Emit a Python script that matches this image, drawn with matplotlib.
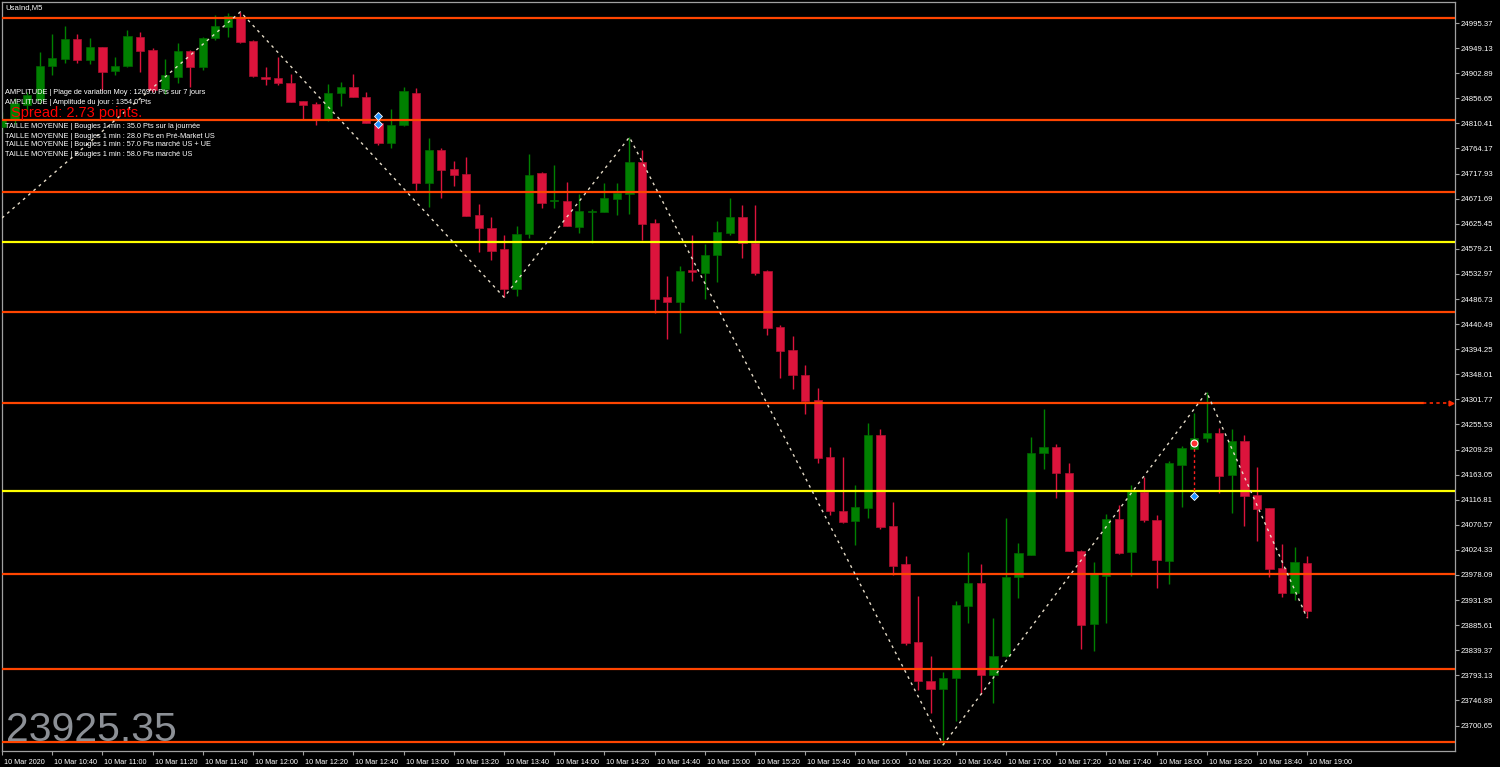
import matplotlib
matplotlib.use("Agg")
import matplotlib.pyplot as plt
from matplotlib.transforms import ScaledTranslation
import numpy as np

# UsaInd M5 candles, 10 Mar 2020 10:20 -> 19:00 (one per 5 minutes)
opens = [
    24804, 24817, 24844, 24853, 24916, 24929, 24966, 24927, 24951, 24907,
    24916, 24970, 24946, 24874, 24896, 24944, 24914, 24968, 24988, 25007,
    24962, 24896, 24894, 24885, 24852, 24846, 24817, 24866, 24878, 24859,
    24811, 24774, 24807, 24866, 24701, 24761, 24726, 24717, 24642, 24618,
    24579, 24505, 24607, 24719, 24667, 24667, 24620, 24647, 24647, 24671,
    24680, 24739, 24627, 24490, 24481, 24540, 24535, 24568, 24608, 24638,
    24590, 24538, 24435, 24393, 24347, 24301, 24196, 24096, 24078, 24102,
    24236, 24068, 23998, 23855, 23783, 23768, 23788, 23921, 23963, 23794,
    23829, 23974, 24015, 24203, 24214, 24166, 24022, 23888, 23976, 24081,
    24021, 24131, 24079, 24004, 24181, 24210, 24231, 24240, 24162, 24225,
    24126, 24102, 23991, 23945, 24000,
]
highs = [
    24831, 24857, 24868, 24942, 24975, 24990, 24975, 24968, 24951, 24933,
    24983, 24979, 24949, 24929, 24959, 24946, 24970, 25010, 25014, 25016,
    24964, 24914, 24933, 24901, 24852, 24850, 24883, 24887, 24901, 24868,
    24813, 24837, 24878, 24876, 24784, 24765, 24741, 24748, 24662, 24638,
    24605, 24621, 24754, 24721, 24734, 24702, 24680, 24653, 24701, 24701,
    24785, 24761, 24634, 24529, 24548, 24605, 24588, 24631, 24673, 24660,
    24660, 24540, 24439, 24419, 24365, 24323, 24214, 24196, 24144, 24258,
    24247, 24113, 24013, 23939, 23829, 23799, 23930, 24021, 23998, 23899,
    24083, 24037, 24232, 24284, 24220, 24185, 24024, 24002, 24091, 24107,
    24144, 24159, 24089, 24188, 24216, 24277, 24315, 24249, 24247, 24236,
    24177, 24102, 24035, 24030, 24013,
]
lows = [
    24794, 24809, 24835, 24846, 24900, 24922, 24922, 24920, 24872, 24900,
    24914, 24905, 24868, 24865, 24885, 24878, 24909, 24964, 24970, 24959,
    24896, 24881, 24881, 24850, 24819, 24807, 24815, 24843, 24859, 24811,
    24771, 24765, 24806, 24688, 24656, 24673, 24695, 24640, 24573, 24559,
    24490, 24492, 24599, 24655, 24655, 24621, 24608, 24590, 24647, 24642,
    24643, 24596, 24461, 24413, 24424, 24520, 24487, 24518, 24605, 24562,
    24531, 24420, 24341, 24321, 24275, 24185, 24089, 24074, 24033, 24083,
    24063, 23978, 23849, 23766, 23724, 23665, 23709, 23890, 23759, 23742,
    23827, 23936, 24015, 24173, 24120, 24022, 23842, 23838, 23890, 24017,
    23976, 24076, 23954, 23962, 24103, 24210, 24223, 24129, 24092, 24068,
    24041, 23974, 23938, 23932, 23899,
]
closes = [
    24817, 24848, 24863, 24916, 24931, 24966, 24927, 24951, 24905, 24916,
    24972, 24944, 24872, 24900, 24944, 24914, 24968, 24990, 25008, 24960,
    24898, 24892, 24885, 24850, 24844, 24817, 24866, 24878, 24859, 24811,
    24774, 24807, 24870, 24701, 24761, 24725, 24715, 24640, 24618, 24575,
    24505, 24607, 24715, 24664, 24669, 24621, 24649, 24649, 24673, 24682,
    24739, 24625, 24487, 24481, 24538, 24537, 24568, 24610, 24638, 24590,
    24535, 24433, 24391, 24347, 24299, 24194, 24096, 24076, 24103, 24236,
    24067, 23995, 23853, 23783, 23768, 23788, 23923, 23963, 23794, 23829,
    23974, 24019, 24203, 24214, 24166, 24022, 23886, 23982, 24081, 24019,
    24135, 24079, 24006, 24185, 24212, 24231, 24240, 24161, 24225, 24124,
    24100, 23989, 23945, 24002, 23912,
]

# zigzag pivots (candle index, price)
zz_idx = [0, 19, 40, 50, 75, 96, 104]
zz_price = [24636, 25016, 24490, 24785, 23665, 24315, 23899]

# horizontal levels
orange_levels = [25004.6, 24816.6, 24683.9, 24462.8, 24295.1, 23979.9, 23804.8, 23670.3]
yellow_levels = [24591.8, 24132.9]

# trade markers
trade_idx = [30, 30]
trade_price = [24824, 24809]
order_idx = 95
order_open = 24221
order_stop = 24124

price_ticks_top = 24995.37
price_tick_step = 46.24
n_price_ticks = 29

xtick_pos = list(range(0, 105, 4))
xtick_labels = ["10 Mar 2020", "10 Mar 10:40", "10 Mar 11:00", "10 Mar 11:20", "10 Mar 11:40",
                "10 Mar 12:00", "10 Mar 12:20", "10 Mar 12:40", "10 Mar 13:00", "10 Mar 13:20",
                "10 Mar 13:40", "10 Mar 14:00", "10 Mar 14:20", "10 Mar 14:40", "10 Mar 15:00",
                "10 Mar 15:20", "10 Mar 15:40", "10 Mar 16:00", "10 Mar 16:20", "10 Mar 16:40",
                "10 Mar 17:00", "10 Mar 17:20", "10 Mar 17:40", "10 Mar 18:00", "10 Mar 18:20",
                "10 Mar 18:40", "10 Mar 19:00"]

info_lines = [
    "AMPLITUDE | Plage de variation Moy : 1269.0 Pts sur 7 jours",
    "AMPLITUDE | Amplitude du jour : 1354.0 Pts",
    "TAILLE MOYENNE | Bougies 1 min : 35.0 Pts sur la journée",
    "TAILLE MOYENNE | Bougies 1 min : 28.0 Pts en Pré-Market US",
    "TAILLE MOYENNE | Bougies 1 min : 57.0 Pts marché US + UE",
    "TAILLE MOYENNE | Bougies 1 min : 58.0 Pts marché US",
]
spread_text = "Spread: 2.73 points."
bid_text = "23925.35"
symbol_text = "UsaInd,M5"

W, H = 1500, 767
plt.rcParams["font.family"] = ["Liberation Sans", "DejaVu Sans"]

fig = plt.figure(figsize=(W / 100, H / 100), dpi=100, facecolor="black")
ax = fig.add_axes([2 / W, 1 - 751 / H, (1455 - 2) / W, (751 - 2) / H])
ax.set_facecolor("black")

GREEN = "#008000"
RED = "#DC143C"

o = np.array(opens, float)
h = np.array(highs, float)
l = np.array(lows, float)
c = np.array(closes, float)
idx = np.arange(len(o))
up = c >= o
cols = np.where(up, GREEN, RED)
edge = np.where(up, "#006400", "#B01030")

ax.vlines(idx, l, h, colors=cols, linewidth=1.0, zorder=2)
body_low = np.minimum(o, c)
body_h = np.maximum(np.abs(c - o), 1.6)
ax.bar(idx, body_h, bottom=body_low, width=0.66, color=cols, edgecolor=edge,
       linewidth=0.5, zorder=3)

# horizontal levels
for lv in orange_levels:
    xmax = 1.0 if lv != 24295.1 else 0.978
    ax.axhline(lv, xmin=0, xmax=xmax, color="#FF4500", linewidth=1.6, zorder=4)
for lv in yellow_levels:
    ax.axhline(lv, color="#FFFF00", linewidth=1.6, zorder=4)
ax.plot([113.2, 115.5], [24295.1, 24295.1], color="#FF2A00", linewidth=1.2,
        linestyle=(0, (2, 2)), zorder=4)
ax.plot([115.45], [24295.1], marker=">", color="#FF2A00", markersize=3.5, zorder=5)

# zigzag
ax.plot(zz_idx, zz_price, color="#E6DCC8", linewidth=1.0, linestyle=(0, (2, 3)), zorder=5)

# trade markers
ax.plot(trade_idx, trade_price, linestyle="none", marker="D", markersize=4,
        markerfacecolor="#1E90FF", markeredgecolor="white", markeredgewidth=0.6, zorder=6)
ax.plot([order_idx, order_idx], [order_open, order_stop], color="#FF2020",
        linewidth=1.0, linestyle=(0, (2, 2)), zorder=6)
ax.plot([order_idx], [order_open], marker="o", markersize=5, markerfacecolor="#FF3030",
        markeredgecolor="white", markeredgewidth=0.8, zorder=7)
ax.plot([order_idx], [order_stop], marker="D", markersize=4, markerfacecolor="#1E90FF",
        markeredgecolor="white", markeredgewidth=0.6, zorder=7)

ax.set_xlim((2 - 1.9) / 12.55, (1455 - 1.9) / 12.55)
ax.set_ylim(23653.7, 25034.1)

yt = price_ticks_top - price_tick_step * np.arange(n_price_ticks)
ax.yaxis.tick_right()
ax.set_yticks(yt)
ax.set_yticklabels([f"{v:.2f}" for v in yt])
ax.set_xticks(xtick_pos)
ax.set_xticklabels(xtick_labels)

ax.tick_params(axis="both", colors="#A0A0A0", labelcolor="white", length=3,
               width=0.8, direction="out", labelsize=5.6, pad=1.2)
ax.tick_params(axis="x", labelsize=5.2, pad=2.5)
off = ScaledTranslation(2 / 100, 0, fig.dpi_scale_trans)
for lbl in ax.get_xticklabels():
    lbl.set_horizontalalignment("left")
    lbl.set_transform(lbl.get_transform() + off)

for sp in ax.spines.values():
    sp.set_color("#A0A0A0")
    sp.set_linewidth(0.9)


def ftext(x, y, s, **kw):
    fig.text(x / W, 1 - y / H, s, **kw)


ftext(5, 8, symbol_text, color="white", fontsize=5.6, va="center", ha="left")
for yy, s in zip([93, 102, 126, 136, 145, 154], info_lines):
    ftext(5, yy, s, color="white", fontsize=5.3, va="center", ha="left")
ftext(11, 113, spread_text, color="#FF0000", fontsize=10.5, va="center", ha="left")
ftext(6, 741, bid_text, color="#8C9096", fontsize=29.5, va="baseline", ha="left")

fig.savefig("out.png", dpi=100, facecolor="black")
